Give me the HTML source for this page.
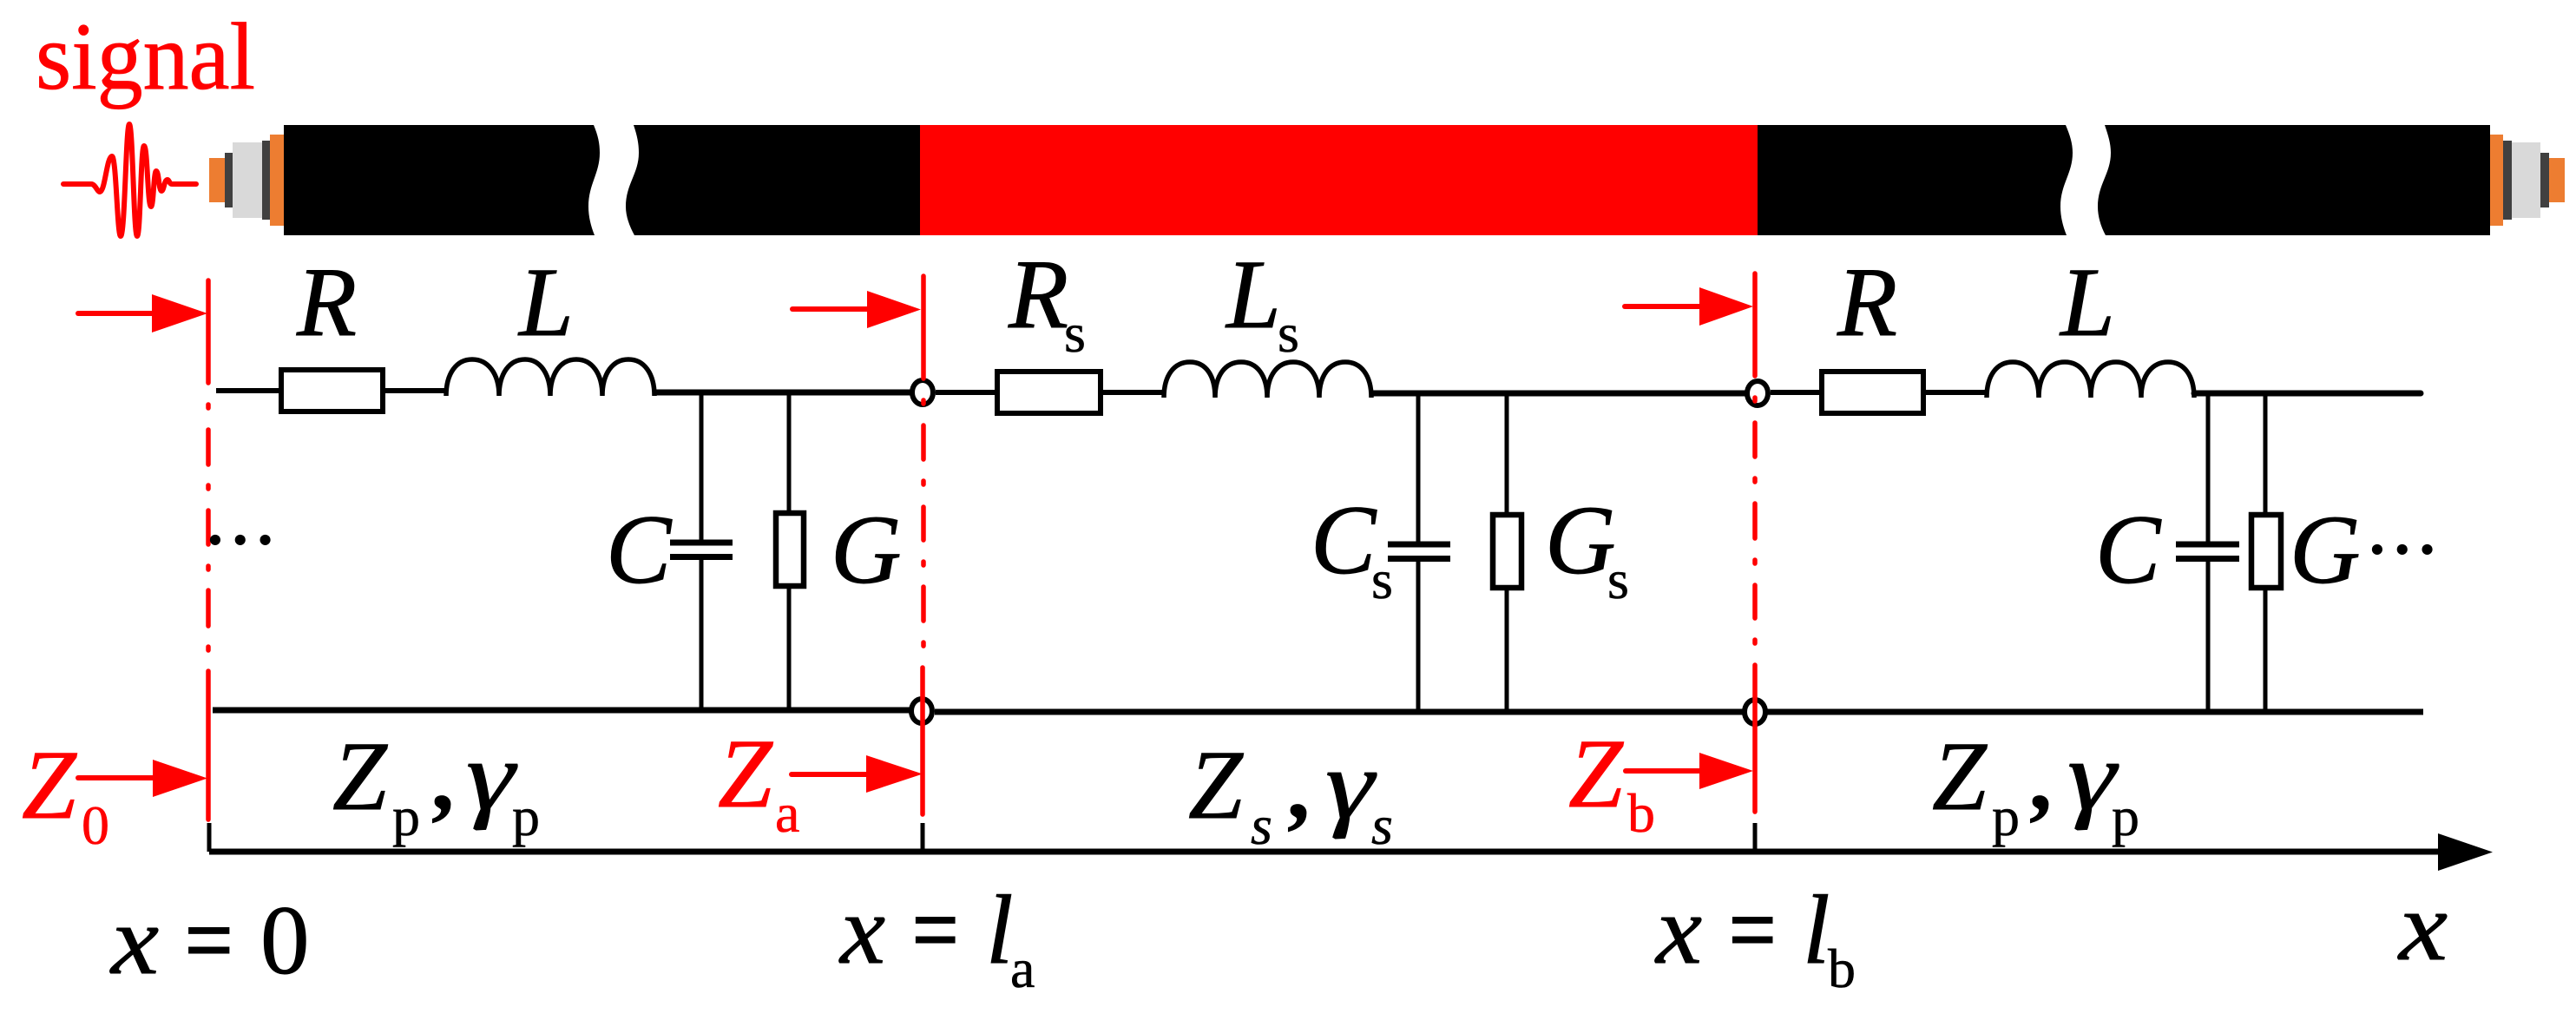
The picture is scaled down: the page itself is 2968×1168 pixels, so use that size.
<!DOCTYPE html>
<html><head><meta charset="utf-8"><style>
html,body{margin:0;padding:0;background:#fff}
svg{display:block}
text{font-family:"Liberation Serif",serif}
.i{font-style:italic;font-size:113px;stroke:#000;stroke-width:.9px}
.s{font-size:64px;stroke:#000;stroke-width:.6px}
.e{font-size:113px;font-weight:bold}
.c{font-size:104px;font-weight:bold;stroke:#000;stroke-width:.8px}
.d{font-size:86px;font-style:italic;stroke:#000;stroke-width:2px}
.r{fill:#f00;stroke:#f00}
</style></head><body>
<svg width="2968" height="1168" viewBox="0 0 2968 1168" xmlns="http://www.w3.org/2000/svg">
<rect width="2968" height="1168" fill="#fff"/>
<!-- cable -->
<g>
<rect x="241" y="182" width="18" height="51" fill="#ed7d31"/>
<rect x="259" y="176" width="9" height="63" fill="#404040"/>
<rect x="268" y="164" width="34" height="87" fill="#d9d9d9"/>
<rect x="302" y="162" width="9" height="91" fill="#404040"/>
<rect x="311" y="155" width="16" height="105" fill="#ed7d31"/>
<path d="M327 144H684C689 156 691 165 691 176C691 200 678 212 678 238C678 250 681 261 685 271H327Z" fill="#000"/>
<path d="M730 144C734 156 736 165 736 176C736 200 721 212 721 238C721 250 726 262 731 271H1060V144Z" fill="#000"/>
<rect x="1060" y="144" width="965" height="127" fill="#f00"/>
<path d="M2025 144H2380C2385 156 2388 165 2388 176C2388 200 2374 212 2374 238C2374 250 2377 261 2381 271H2025Z" fill="#000"/>
<path d="M2425 144C2429 156 2432 165 2432 176C2432 200 2417 212 2417 238C2417 250 2421 262 2426 271H2869V144Z" fill="#000"/>
<rect x="2869" y="155" width="15" height="105" fill="#ed7d31"/>
<rect x="2884" y="162" width="10" height="91" fill="#404040"/>
<rect x="2894" y="164" width="33" height="87" fill="#d9d9d9"/>
<rect x="2927" y="176" width="10" height="63" fill="#404040"/>
<rect x="2937" y="182" width="18" height="51" fill="#ed7d31"/>
</g>
<!-- signal -->
<text x="41" y="102" font-size="110" textLength="253" lengthAdjust="spacingAndGlyphs" class="r" style="stroke-width:.8px">signal</text>
<path d="M73 212H105C110 212 112 221 115 221C121 221 123 180 129 180C134 180 135 272 139 272C144 272 145 143 149 143C153 143 154 272 158 272C162 272 162 168 166 168C170 168 170 238 174 238C177 238 177 197 180 197C183 197 183 220 186 220C189 220 189 207 193 207C195 207 195 212 198 212H226" fill="none" stroke="#f00" stroke-width="6" stroke-linecap="round"/>
<!-- circuit black -->
<g fill="none" stroke="#000">
<path d="M249 450H321M444 450H514" stroke-width="6"/>
<path d="M754 452H1049" stroke-width="7"/>
<path d="M1078 452H1146M1271 452H1341" stroke-width="6"/>
<path d="M1580 453H2011" stroke-width="7"/>
<path d="M2040 452H2096M2219 452H2289" stroke-width="6"/>
<path d="M2528 453H2789" stroke-width="7" stroke-linecap="round"/>
<path d="M245 818H1048" stroke-width="7"/>
<path d="M1077 820H2792" stroke-width="7"/>
<path d="M241 981H2815" stroke-width="7"/>
<path d="M241 948V981M1063 948V981M2022 948V981" stroke-width="5"/>
<!-- resistors -->
<rect x="324" y="426" width="117" height="48" stroke-width="6"/>
<rect x="1149" y="428" width="119" height="48" stroke-width="6"/>
<rect x="2099" y="428" width="117" height="48" stroke-width="6"/>
<!-- inductors -->
<path d="M514 456C514 430 526 414 544 414C562 414 575 430 575 456C575 430 587 414 605 414C622 414 634 430 634 456C634 430 646 414 664 414C682 414 694 430 694 456C694 430 706 414 724 414C742 414 754 430 754 456" stroke-width="5.5"/>
<path d="M1341 458C1341 432 1353 417 1371 417C1389 417 1400 432 1400 458C1400 432 1412 417 1430 417C1448 417 1460 432 1460 458C1460 432 1472 417 1490 417C1508 417 1520 432 1520 458C1520 432 1532 417 1550 417C1568 417 1580 432 1580 458" stroke-width="5.5"/>
<path d="M2289 458C2289 432 2301 417 2319 417C2337 417 2349 432 2349 458C2349 432 2361 417 2379 417C2397 417 2409 432 2409 458C2409 432 2420 417 2438 417C2456 417 2467 432 2467 458C2467 432 2480 417 2498 417C2516 417 2528 432 2528 458" stroke-width="5.5"/>
<!-- shunts -->
<path d="M808 452V625M808 642V818M909 452V588M909 678V818" stroke-width="5"/>
<path d="M1634 453V627M1634 644V820M1736 453V590M1736 680V820" stroke-width="5"/>
<path d="M2544 453V627M2544 644V820M2610 453V590M2610 680V820" stroke-width="5"/>
<path d="M772 625H844M772 641.500H844" stroke-width="7"/>
<path d="M1599 627H1671M1599 643.500H1671" stroke-width="7"/>
<path d="M2507 627H2580M2507 643.500H2580" stroke-width="7"/>
<rect x="894" y="591" width="32" height="84" fill="#fff" stroke-width="6.500"/>
<rect x="1720" y="593" width="33" height="84" fill="#fff" stroke-width="6.500"/>
<rect x="2594" y="593" width="34" height="84" fill="#fff" stroke-width="6.500"/>
<!-- nodes -->
<ellipse cx="1063" cy="452" rx="12" ry="14" fill="#fff" stroke-width="6"/>
<ellipse cx="2025" cy="453" rx="12" ry="14" fill="#fff" stroke-width="6"/>
<ellipse cx="1062" cy="819" rx="12" ry="14" fill="#fff" stroke-width="6"/>
<ellipse cx="2022" cy="820" rx="12" ry="14" fill="#fff" stroke-width="6"/>
</g>
<path d="M2809 960L2872 981.500L2809 1003Z" fill="#000"/>
<!-- red section lines -->
<g fill="none" stroke="#f00" stroke-width="5.500" stroke-linecap="round">
<path d="M240 323V441M240 466V470M240 495V535M240 559V563M240 588V627M240 652V656M240 680V721M240 745V749M240 773V944"/>
<path d="M1064 318V436M1064 461V465M1064 490V529M1064 554V558M1064 584V622M1064 647V651M1064 676V715M1064 740V744M1063 769V938"/>
<path d="M2022 315V433M2022 458V462M2022 487V526M2022 551V555M2022 580V620M2022 645V649M2022 674V712M2022 737V741M2022 766V935"/>
</g>
<!-- red arrows -->
<g fill="none" stroke="#f00" stroke-linecap="round" stroke-width="6">
<path d="M90 361H176"/>
<path d="M913 356H999"/>
<path d="M1872 353H1958"/>
<path d="M90 896H176"/>
<path d="M912 892H998"/>
<path d="M1873 888H1958"/>
</g>
<g fill="#f00">
<path d="M175 339L239 361L175 383Z"/>
<path d="M999 335L1061 356.500L999 378Z"/>
<path d="M1958 331L2020 353L1958 375Z"/>
<path d="M176 875L239 896.500L176 918Z"/>
<path d="M998 870L1063 891.500L998 913Z"/>
<path d="M1958 867L2020 888L1958 909Z"/>
</g>
<!-- labels -->
<text class="i" x="342" y="386">R</text>
<text class="i" x="598" y="386">L</text>
<text class="i" x="698" y="671">C</text>
<text class="i" x="957" y="671">G</text>
<text class="d" x="240" y="626">…</text>

<text class="i" x="1162" y="377">R</text><text class="s" x="1226" y="405">s</text>
<text class="i" x="1413" y="377">L</text><text class="s" x="1472" y="405">s</text>
<text class="i" x="1510" y="660">C</text><text class="s" x="1580" y="689">s</text>
<text class="i" x="1780" y="660">G</text><text class="s" x="1852" y="689">s</text>

<text class="i" x="2117" y="386">R</text>
<text class="i" x="2374" y="386">L</text>
<text class="i" x="2414" y="671">C</text>
<text class="i" x="2638" y="671">G</text>
<text class="d" x="2731" y="637">…</text>

<text class="i r" x="25" y="942">Z</text><text class="s r" x="94" y="972">0</text>
<text class="i" x="383" y="932">Z</text><text class="s" x="452" y="962">p</text><text class="c" x="497" y="932">,</text><text class="i" x="537" y="932" textLength="56" lengthAdjust="spacingAndGlyphs">γ</text><text class="s" x="590" y="962">p</text>
<text class="i r" x="827" y="929">Z</text><text class="s r" x="893" y="958">a</text>

<text class="i" x="1369" y="942">Z</text><text class="s" x="1441" y="972" font-style="italic">s</text><text class="c" x="1483" y="942">,</text><text class="i" x="1527" y="942" textLength="56" lengthAdjust="spacingAndGlyphs">γ</text><text class="s" x="1580" y="972" font-style="italic">s</text>
<text class="i r" x="1807" y="929">Z</text><text class="s r" x="1875" y="958">b</text>
<text class="i" x="2226" y="932">Z</text><text class="s" x="2295" y="962">p</text><text class="c" x="2338" y="932">,</text><text class="i" x="2382" y="932" textLength="56" lengthAdjust="spacingAndGlyphs">γ</text><text class="s" x="2433" y="962">p</text>

<text class="i" x="128" y="1121" textLength="55" lengthAdjust="spacingAndGlyphs">x</text><text class="e" x="212" y="1121" textLength="58" lengthAdjust="spacingAndGlyphs">=</text><text class="i" style="font-style:normal" x="300" y="1121">0</text>
<text class="i" x="968" y="1109" textLength="52" lengthAdjust="spacingAndGlyphs">x</text><text class="e" x="1050" y="1109" textLength="56" lengthAdjust="spacingAndGlyphs">=</text><text class="i" x="1136" y="1109">l</text><text class="s" x="1164" y="1137">a</text>
<text class="i" x="1908" y="1109" textLength="53" lengthAdjust="spacingAndGlyphs">x</text><text class="e" x="1991" y="1109" textLength="57" lengthAdjust="spacingAndGlyphs">=</text><text class="i" x="2077" y="1109">l</text><text class="s" x="2106" y="1137">b</text>
<text class="i" x="2764" y="1105" textLength="56" lengthAdjust="spacingAndGlyphs">x</text>
</svg>
</body></html>
